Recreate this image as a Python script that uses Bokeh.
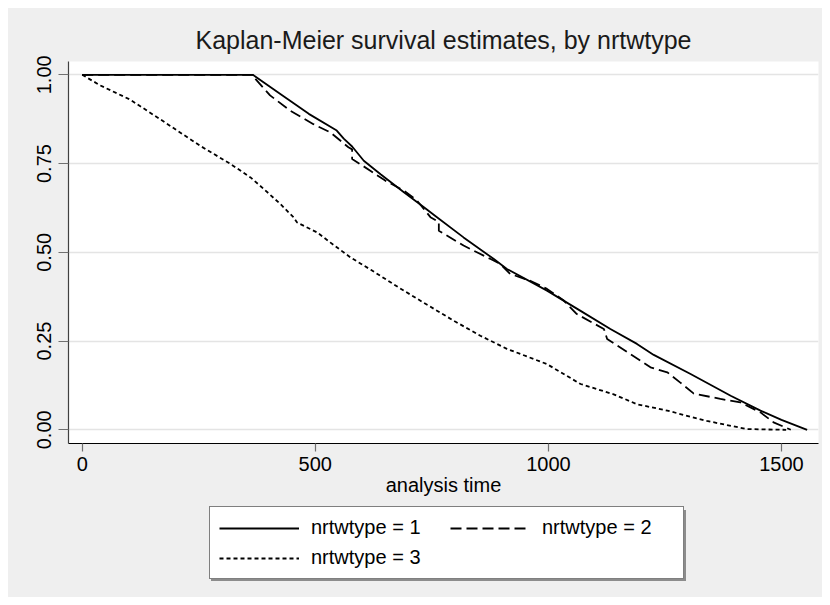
from bokeh.plotting import figure
from bokeh.models import Range1d, FixedTicker, Legend, LegendItem
from bokeh.layouts import column
from bokeh.embed import file_html
from bokeh.resources import INLINE

# ---- data ----
t1 = [0, 366, 425, 486, 546, 561, 579, 604, 640, 690, 733, 761, 818, 883, 911,
      997, 1069, 1133, 1190, 1226, 1305, 1391, 1455, 1500, 1555]
s1 = [1.0, 1.0, 0.946, 0.89, 0.843, 0.82, 0.798, 0.758, 0.72, 0.669, 0.627, 0.599,
      0.542, 0.481, 0.453, 0.392, 0.335, 0.284, 0.242, 0.211, 0.157, 0.096, 0.054,
      0.028, 0.0]

t2 = [0, 368, 371, 403, 446, 496, 532, 571, 579, 579, 618, 650, 690, 718, 747, 765,
      765, 818, 876, 897, 918, 961, 997, 1033, 1061, 1119, 1126, 1176, 1219, 1255,
      1283, 1312, 1369, 1412, 1455, 1483, 1520]
s2 = [1.0, 1.0, 0.989, 0.942, 0.899, 0.861, 0.838, 0.796, 0.79, 0.763, 0.73, 0.702,
      0.674, 0.646, 0.599, 0.585, 0.561, 0.519, 0.481, 0.467, 0.439, 0.42, 0.397,
      0.364, 0.326, 0.284, 0.256, 0.213, 0.176, 0.162, 0.133, 0.102, 0.087, 0.077,
      0.049, 0.021, 0.0]

t3 = [0, 39, 103, 167, 253, 318, 361, 389, 425, 453, 461, 504, 532, 575, 620, 680,
      740, 800, 854, 911, 997, 1069, 1140, 1190, 1255, 1340, 1426, 1510]
s3 = [1.0, 0.97, 0.93, 0.875, 0.80, 0.749, 0.711, 0.679, 0.636, 0.599, 0.584, 0.556,
      0.528, 0.486, 0.45, 0.40, 0.352, 0.305, 0.265, 0.228, 0.185, 0.129, 0.10,
      0.072, 0.054, 0.025, 0.002, 0.0]

series_t = [t1, t2, t3]
series_s = [s1, s2, s3]
series_labels = ["nrtwtype = 1", "nrtwtype = 2", "nrtwtype = 3"]
xticks = [0, 500, 1000, 1500]
yticks = [0.0, 0.25, 0.5, 0.75, 1.0]
ytick_labels = ["0.00", "0.25", "0.50", "0.75", "1.00"]
title_text = "Kaplan-Meier survival estimates, by nrtwtype"
xlabel = "analysis time"

FONT = "Liberation Sans"
BG = "#efefef"
STYLES = [dict(line_color="black", line_width=1.8),
          dict(line_color="black", line_width=1.8, line_dash="11 5"),
          dict(line_color="black", line_width=1.8, line_dash="4 3")]

p = figure(width=814, height=497, output_backend="svg", toolbar_location=None,
           x_range=Range1d(-29.4, 1579.4), y_range=Range1d(-0.0386, 1.0375),
           min_border_left=60, min_border_right=4, min_border_top=53,
           min_border_bottom=62, background_fill_color="white",
           border_fill_color=BG, outline_line_color=None,
           title=title_text, margin=0)

p.title.align = "center"
p.title.text_font = FONT
p.title.text_font_size = "25px"
p.title.text_font_style = "normal"
p.title.text_color = "#1a1a1a"
p.title.standoff = 16

for t, s, st in zip(series_t, series_s, STYLES):
    p.line(t, s, **st)

p.xgrid.grid_line_color = None
p.ygrid.grid_line_color = "#e4e4e4"
p.ygrid.grid_line_width = 1.5

p.xaxis.ticker = FixedTicker(ticks=xticks)
p.yaxis.ticker = FixedTicker(ticks=yticks)
p.yaxis.major_label_overrides = {v: s for v, s in zip(yticks, ytick_labels)}
p.yaxis.major_label_orientation = "vertical"
p.xaxis.axis_label = xlabel

for ax in (p.xaxis[0], p.yaxis[0]):
    ax.major_label_text_font = FONT
    ax.major_label_text_font_size = "20px"
    ax.major_label_text_color = "black"
    ax.axis_label_text_font = FONT
    ax.axis_label_text_font_size = "20px"
    ax.axis_label_text_font_style = "normal"
    ax.axis_label_text_color = "black"
    ax.minor_tick_line_color = None
    ax.major_tick_in = 0
    ax.major_tick_line_color = "#707070"
    ax.major_tick_line_width = 1.2

p.xaxis.axis_line_color = "black"
p.xaxis.axis_line_width = 1.2
p.xaxis.major_tick_out = 8
p.xaxis.major_label_standoff = 5
p.xaxis.axis_label_standoff = 0
p.yaxis.axis_line_color = "#404040"
p.yaxis.axis_line_width = 1.2
p.yaxis.major_tick_out = 10
p.yaxis.major_label_standoff = 7

# ---- legend strip below the chart (its series lie outside its view) ----
lg = figure(width=814, height=92, output_backend="svg", toolbar_location=None,
            x_range=Range1d(-4000, -3000), y_range=Range1d(5, 6),
            min_border_left=0, min_border_right=0, min_border_top=0,
            min_border_bottom=0, background_fill_color=BG,
            border_fill_color=BG, outline_line_color=None, margin=0)
lg.axis.visible = False
lg.grid.visible = False
lr = [lg.line(t, s, **st) for t, s, st in zip(series_t, series_s, STYLES)]

common = dict(nrows=2, orientation="vertical",
              label_text_font=FONT, label_text_font_size="20px",
              glyph_width=80, glyph_height=22, label_height=22, label_width=132,
              label_standoff=12, padding=9, spacing=7, margin=0)

# drop shadow of the legend box (same geometry, shifted 2px)
shadow = Legend(items=[LegendItem(label=" ", renderers=[lr[0]]),
                       LegendItem(label=" ", renderers=[lr[2]]),
                       LegendItem(label=" ", renderers=[lr[1]])],
                location=(143, 16), border_line_color="#8c8c8c",
                border_line_width=1.5, background_fill_color="#8c8c8c",
                background_fill_alpha=1.0, label_text_color="#8c8c8c", **common)
lg.add_layout(shadow, "center")

# column-major layout: first column holds items 1 and 3, second column item 2
legend = Legend(items=[LegendItem(label=series_labels[0], renderers=[lr[0]]),
                       LegendItem(label=series_labels[2], renderers=[lr[2]]),
                       LegendItem(label=series_labels[1], renderers=[lr[1]])],
                location=(141, 18), label_text_color="black",
                border_line_color="black", border_line_width=1.2,
                background_fill_color="white", background_fill_alpha=1.0,
                **common)
lg.add_layout(legend, "center")

root = column(p, lg, spacing=0, margin=(8, 8, 8, 8),
              styles={"background-color": BG})
open("out.html", "w").write(file_html(root, INLINE))
